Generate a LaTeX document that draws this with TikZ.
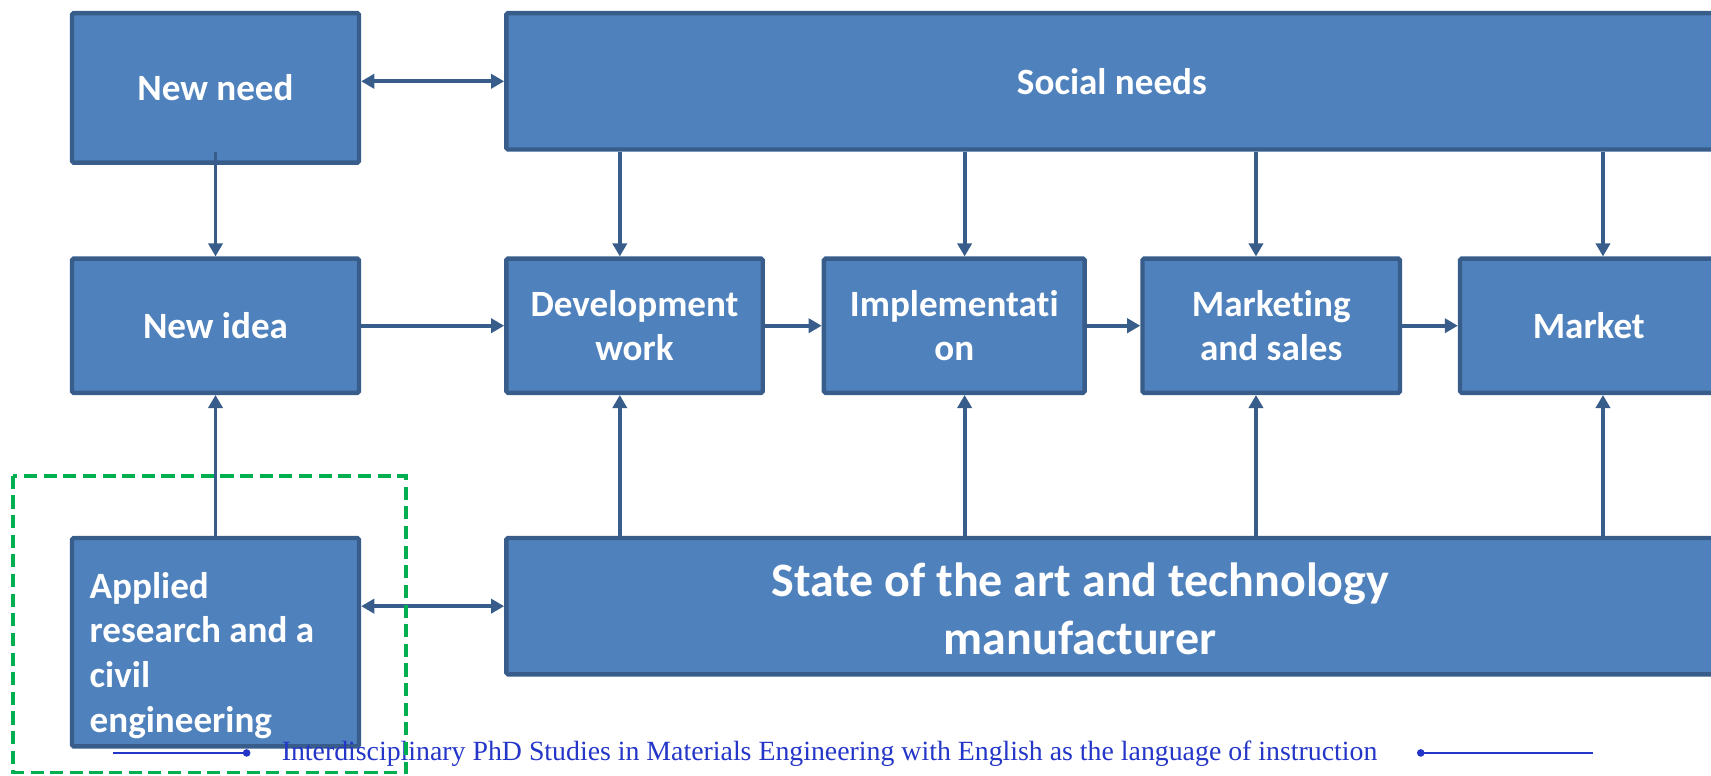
\documentclass[tikz,border=0pt]{standalone}
\usepackage{fontspec}
\setmainfont{Carlito}[Ligatures=NoCommon]
\newfontfamily\footfont{Liberation Serif}
\usetikzlibrary{arrows.meta}
\definecolor{boxfill}{HTML}{4F81BD}
\definecolor{boxline}{HTML}{385D8A}
\definecolor{dashgreen}{HTML}{00B050}
\definecolor{footblue}{HTML}{2436C8}
\begin{document}
\begin{tikzpicture}[x=1pt,y=-1pt,
  box/.style={draw=boxline, fill=boxfill, line width=4pt, rounded corners=1.5pt,
    inner sep=0pt, text=white, font=\fontsize{34}{41}\selectfont\bfseries, align=center},
  boxtext/.style={inner sep=0pt, text=white, font=\fontsize{34}{41}\selectfont\bfseries},
  arr/.style={draw=boxline, line width=3.5pt, -{Triangle[length=12pt,width=13pt]}},
  darr/.style={draw=boxline, line width=3.5pt, {Triangle[length=12pt,width=13pt]}-{Triangle[length=12pt,width=13pt]}},
  footline/.style={draw=footblue, line width=1.5pt},
  focus/.style={draw=dashgreen, line width=3.5pt, dash pattern=on 12pt off 6pt},
]
\useasboundingbox (0,0) rectangle (1568,711);
\clip (0,0) rectangle (1568,711);

% boxes
\node[box, minimum width=263pt, minimum height=137pt] (newneed) at (197.5,80.5) {New need};
\node[box, minimum width=1110pt, minimum height=125pt] (social) at (1019,74.5) {Social needs};
\node[box, minimum width=263pt, minimum height=123pt] (newidea) at (197.5,298.5) {New idea};
\node[box, minimum width=235pt, minimum height=123pt] (dev) at (581.5,298.5) {Development\\work};
\node[box, minimum width=239pt, minimum height=123pt] (impl) at (874.5,298.5) {Implementati\\on};
\node[box, minimum width=236pt, minimum height=123pt] (mark) at (1165,298.5) {Marketing\\and sales};
\node[box, minimum width=236pt, minimum height=123pt] (market) at (1456,298.5) {Market};
\node[box, minimum width=263pt, minimum height=191pt] (applied) at (197.5,588.5) {};
\node[box, minimum width=1110pt, minimum height=125pt] (state) at (1019,555.5) {};

\node[boxtext, anchor=north west, align=left] (appliedtext) at (82,524)
  {Applied\\research and a\\civil\\engineering};
\node[boxtext, align=center, font=\fontsize{44}{53}\selectfont\bfseries] (statetext) at (990,558)
  {State of the art and technology\\manufacturer};

% connector x positions
\coordinate (c1) at (568,0);
\coordinate (c2) at (884,0);
\coordinate (c3) at (1151,0);
\coordinate (c4) at (1469,0);

% arrows
\draw[darr] (newneed.east |- social.west) -- (social.west);
\draw[arr] ([yshift=12pt]newneed.south) -- (newidea.north);
\draw[arr] (applied.north) -- (newidea.south);
\draw[darr] (applied.east |- state.west) -- (state.west);

\draw[arr] (newidea.east) -- (dev.west);
\draw[arr] (dev.east) -- (impl.west);
\draw[arr] (impl.east) -- (mark.west);
\draw[arr] (mark.east) -- (market.west);

\draw[arr] (social.south -| c1) -- (dev.north -| c1);
\draw[arr] (social.south -| c2) -- (impl.north -| c2);
\draw[arr] (social.south -| c3) -- (mark.north -| c3);
\draw[arr] (social.south -| c4) -- (market.north -| c4);

\draw[arr] (state.north -| c1) -- (dev.south -| c1);
\draw[arr] (state.north -| c2) -- (impl.south -| c2);
\draw[arr] (state.north -| c3) -- (mark.south -| c3);
\draw[arr] (state.north -| c4) -- (market.south -| c4);

% footer
\coordinate (fl1) at (104,690);
\coordinate (fl2) at (226,690);
\coordinate (fr1) at (1302,690);
\coordinate (fr2) at (1460,690);
\draw[footline] (fl1) -- (fl2);
\fill[footblue] (fl2) circle (3.5);
\draw[footline] (fr1) -- (fr2);
\fill[footblue] (fr1) circle (3.5);
\node[anchor=base west, inner sep=0pt, text=footblue] (foot) at (258,697)
  {\resizebox{1004pt}{!}{\footfont\fontsize{22}{26}\selectfont Interdisciplinary PhD Studies in Materials Engineering with English as the language of instruction}};

% highlight
\coordinate (g1) at (12,436);
\coordinate (g2) at (372,708);
\draw[focus] (g1) rectangle (g2);
\end{tikzpicture}
\end{document}
